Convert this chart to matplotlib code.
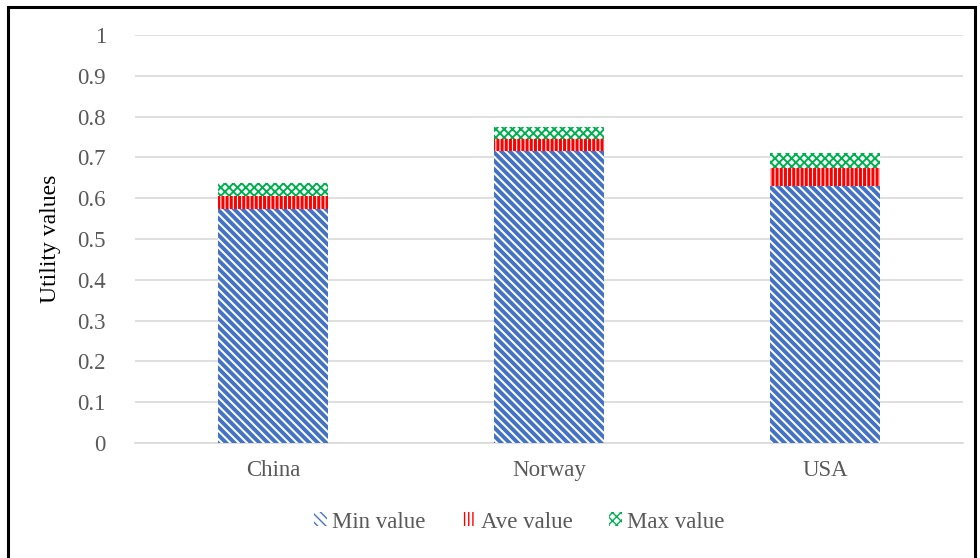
import matplotlib
matplotlib.use("Agg")
import matplotlib.pyplot as plt
from matplotlib.patches import Rectangle
import numpy as np

countries = ["China", "Norway", "USA"]
min_value = [0.574, 0.715, 0.631]
ave_increment = [0.031, 0.030, 0.042]
max_increment = [0.032, 0.030, 0.038]

series_names = ["Min value", "Ave value", "Max value"]
series_colors = ["#4472C4", "#FF0000", "#00B050"]
series_hatches = ["\\\\\\\\", "||||", "xxxx"]
hatch_widths = [2.8, 2.2, 1.4]

yticks = [0, 0.1, 0.2, 0.3, 0.4, 0.5, 0.6, 0.7, 0.8, 0.9, 1]
ytick_labels = ["0", "0.1", "0.2", "0.3", "0.4", "0.5", "0.6", "0.7", "0.8", "0.9", "1"]

plt.rcParams["font.family"] = ["Liberation Serif", "DejaVu Serif"]

fig = plt.figure(figsize=(9.8, 5.58), dpi=100)
ax = fig.add_axes([135 / 980, 1 - 443 / 558, (963 - 135) / 980, (443 - 35) / 558])

x = np.arange(len(countries))
width = 0.40
bottom = np.zeros(len(countries))
handles = []
for vals, name, col, hatch, hw in zip([min_value, ave_increment, max_increment],
                                      series_names, series_colors, series_hatches, hatch_widths):
    with plt.rc_context({"hatch.linewidth": hw}):
        bars = ax.bar(x, vals, width, bottom=bottom, facecolor="white",
                      edgecolor=col, linewidth=0, hatch=hatch, label=name, zorder=3)
    handles.append(bars)
    bottom = bottom + np.array(vals)

ax.set_xlim(-0.5, len(countries) - 0.5)
ax.set_ylim(0, 1)
ax.set_yticks(yticks)
ax.set_yticklabels(ytick_labels)
ax.set_xticks(x)
ax.set_xticklabels(countries)
ax.yaxis.grid(True, color="#D9D9D9", linewidth=1.2, zorder=0)
ax.set_axisbelow(True)
for s in ["top", "right", "left"]:
    ax.spines[s].set_visible(False)
ax.spines["bottom"].set_color("#D9D9D9")
ax.spines["bottom"].set_linewidth(1.2)
ax.tick_params(axis="both", length=0, labelsize=16.5, labelcolor="#595959")
ax.tick_params(axis="y", pad=21)
ax.tick_params(axis="x", pad=12)
ax.set_ylabel("Utility values", fontsize=17, color="black", labelpad=12)

leg = fig.legend(handles=handles, labels=series_names, loc="center",
                 bbox_to_anchor=(0.53, 1 - 522 / 558), ncol=3, frameon=False,
                 fontsize=16.5, handlelength=0.55, handleheight=0.55,
                 handletextpad=0.25, columnspacing=1.6)
for t in leg.get_texts():
    t.set_color("#595959")

fig.patches.append(Rectangle((8 / 980, -0.05), (975 - 8) / 980, 1 - 7 / 558 + 0.05,
                             transform=fig.transFigure, fill=False,
                             edgecolor="black", linewidth=2.2, zorder=10))

fig.savefig("out.png", dpi=100)
